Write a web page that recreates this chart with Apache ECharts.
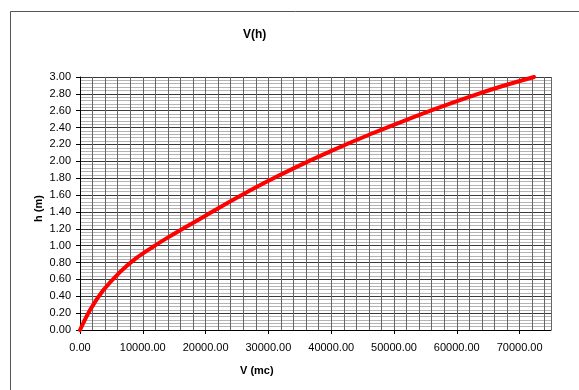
<!DOCTYPE html>
<html>
<head>
<meta charset="utf-8">
<script src="https://cdn.jsdelivr.net/npm/echarts@6/dist/echarts.min.js"></script>
<style>
html,body{margin:0;padding:0;background:#fff;}
#c{width:579px;height:390px;}
</style>
</head>
<body>
<div id="c"></div>
<script>
// Data
var vValues = [0, 1600, 3700, 6400, 9000, 11700, 14300, 17000, 19500, 24400, 29700, 35000, 40300, 46500, 51400, 56700, 62000, 67300, 72300];
var hValues = [0, 0.237, 0.47, 0.69, 0.855, 0.99, 1.11, 1.228, 1.335, 1.545, 1.757, 1.952, 2.133, 2.33, 2.475, 2.625, 2.765, 2.893, 3.0];
var xTicks = [0, 10000, 20000, 30000, 40000, 50000, 60000, 70000];
var yTicks = [0, 0.2, 0.4, 0.6, 0.8, 1.0, 1.2, 1.4, 1.6, 1.8, 2.0, 2.2, 2.4, 2.6, 2.8, 3.0];
var title = 'V(h)';
var xName = 'V (mc)';
var yName = 'h (m)';

var seriesData = vValues.map(function (v, i) { return [v, hValues[i]]; });

var chart = echarts.init(document.getElementById('c'), null, {renderer: 'canvas'});
var font = 'Liberation Sans, Arial, sans-serif';
chart.setOption({
  animation: false,
  backgroundColor: '#fff',
  graphic: [{
    type: 'rect', shape: {x: 10.5, y: 11.5, width: 620, height: 420},
    style: {fill: 'none', stroke: '#555', lineWidth: 1}, z: -10
  }, {
    type: 'text', left: 243, top: 29,
    style: {text: title, font: 'bold 12px ' + font, fill: '#000'}
  }, {
    type: 'text', left: 240, top: 365,
    style: {text: xName, font: 'bold 11px ' + font, fill: '#000'}
  }, {
    type: 'text', x: 33, y: 222, rotation: Math.PI / 2,
    style: {text: yName, font: 'bold 11px ' + font, fill: '#000'}
  }],
  grid: {left: 80, right: 28, top: 77, bottom: 60, containLabel: false},
  xAxis: [{
    type: 'value', min: 0, max: 75000, interval: 10000,
    axisLine: {show: true, lineStyle: {color: '#000', width: 1}},
    axisTick: {show: true, length: 4, lineStyle: {color: '#000'}},
    splitLine: {show: false},
    axisLabel: {
      showMaxLabel: false, color: '#000', fontSize: 11, fontFamily: font, margin: 12,
      formatter: function (v) { return xTicks.indexOf(v) >= 0 ? v.toFixed(2) : ''; }
    }
  }, {
    type: 'value', min: 0, max: 75000, interval: 2000, position: 'bottom',
    axisLine: {show: false}, axisTick: {show: false}, axisLabel: {show: false},
    splitLine: {show: true, lineStyle: {color: '#666', width: 1}}
  }],
  yAxis: [{
    type: 'value', min: 0, max: 3, interval: 0.2,
    axisLine: {show: true, lineStyle: {color: '#000', width: 1}},
    axisTick: {show: true, length: 4, lineStyle: {color: '#000'}},
    splitLine: {show: true, lineStyle: {color: '#3a3a3a', width: 1}},
    minorTick: {show: false, splitNumber: 5},
    minorSplitLine: {show: true, lineStyle: {color: '#b4b4b4', width: 1}},
    axisLabel: {
      color: '#000', fontSize: 11, fontFamily: font, margin: 9,
      formatter: function (v) { return v.toFixed(2); }
    }
  }],
  series: [{
    type: 'line', xAxisIndex: 0, yAxisIndex: 0,
    data: seriesData, smooth: 0.3, showSymbol: false, symbol: 'none',
    lineStyle: {color: '#ff0000', width: 4, cap: 'round'}, z: 10
  }]
});
</script>
</body>
</html>
